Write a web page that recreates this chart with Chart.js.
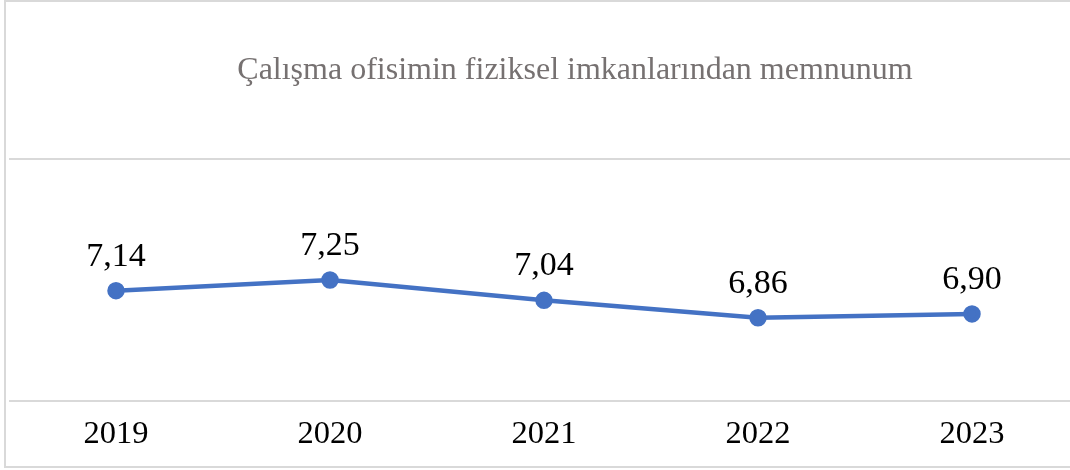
<!DOCTYPE html>
<html lang="tr">
<head>
<meta charset="UTF-8">
<title>Çalışma ofisimin fiziksel imkanlarından memnunum</title>
<script src="https://cdn.jsdelivr.net/npm/chart.js@4.4.1/dist/chart.umd.min.js"></script>
<style>
    html, body {
        margin: 0;
        padding: 0;
        width: 1070px;
        height: 470px;
        overflow: hidden;
        background: #ffffff;
    }
    #frame {
        position: absolute;
        left: 4px;
        top: 0;
        width: 1090px;
        height: 468px;
        border: 2px solid #d9d9d9;
        box-sizing: border-box;
    }
    #title {
        position: absolute;
        top: 50px;
        left: 0;
        width: 1150px;
        text-align: center;
        font-family: "Liberation Serif", "Times New Roman", serif;
        font-size: 32px;
        color: #767171;
        white-space: nowrap;
    }
    #wrap {
        position: absolute;
        left: -2px;
        top: 0;
        width: 1092px;
        height: 470px;
    }
</style>
</head>
<body>
<div id="frame"></div>
<div id="wrap"><canvas id="chart"></canvas></div>
<div id="title">Çalışma ofisimin fiziksel imkanlarından memnunum</div>

<script>
    const years = ['2019', '2020', '2021', '2022', '2023'];
    const scores = [7.14, 7.25, 7.04, 6.86, 6.90];
    const scoreLabels = ['7,14', '7,25', '7,04', '6,86', '6,90'];

    const serif = '"Liberation Serif", "Times New Roman", serif';

    // draws the value above each point
    const valueLabels = {
        id: 'valueLabels',
        afterDatasetsDraw(chart) {
            const ctx = chart.ctx;
            const meta = chart.getDatasetMeta(0);
            ctx.save();
            ctx.font = '34px ' + serif;
            ctx.fillStyle = '#000000';
            ctx.textAlign = 'center';
            ctx.textBaseline = 'alphabetic';
            meta.data.forEach((pt, i) => {
                ctx.fillText(scoreLabels[i], pt.x, pt.y - 25);
            });
            ctx.restore();
        }
    };

    new Chart(document.getElementById('chart'), {
        type: 'line',
        data: {
            labels: years,
            datasets: [{
                data: scores,
                borderColor: '#4472C4',
                backgroundColor: '#4472C4',
                borderWidth: 4.5,
                pointRadius: 6.5,
                pointHoverRadius: 6.5,
                tension: 0
            }]
        },
        options: {
            responsive: true,
            maintainAspectRatio: false,
            animation: false,
            layout: {
                padding: { left: 5, right: 0, top: 159, bottom: 10 }
            },
            plugins: {
                legend: { display: false },
                title: { display: false },
                tooltip: { enabled: false }
            },
            scales: {
                x: {
                    offset: true,
                    grid: { display: false },
                    border: { display: false },
                    ticks: {
                        color: '#000000',
                        font: { family: serif, size: 32.5 },
                        padding: 6
                    }
                },
                y: {
                    min: 6,
                    max: 8.5,
                    ticks: { display: false, stepSize: 2.5 },
                    grid: { color: '#d9d9d9', lineWidth: 2, drawTicks: false },
                    border: { display: false }
                }
            }
        },
        plugins: [valueLabels]
    });
</script>
</body>
</html>
